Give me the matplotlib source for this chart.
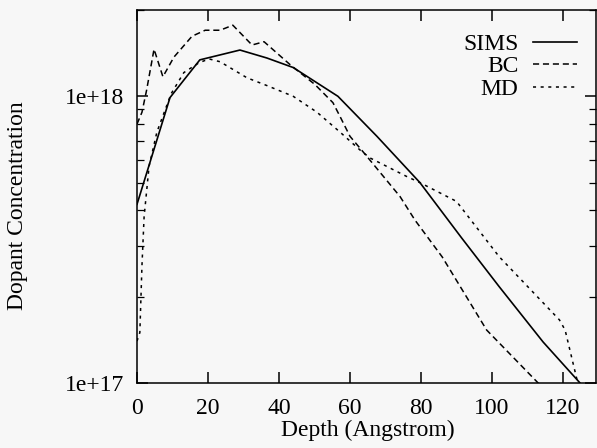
import matplotlib
matplotlib.use("Agg")
import math
import matplotlib.pyplot as plt
from matplotlib.ticker import FixedLocator, LogLocator, NullFormatter, FuncFormatter

# values (depth in Angstrom, concentration in cm^-3)
sims_depth = [0, 9.3, 17.7, 29, 36.6, 44, 56.6, 67.6, 79.7, 91.5, 102, 114.4, 124.8]
sims_conc = [4.2e17, 9.9e17, 1.34e18, 1.45e18, 1.36e18, 1.26e18, 1.0e18,
             7.25e17, 5.0e17, 3.2e17, 2.17e17, 1.39e17, 1.0e17]

bc_depth = [0, 1.4, 2.7, 4.8, 7.3, 10.4, 15.5, 19.2, 23.4, 27, 32.4, 35.8,
            43.1, 50.1, 55.2, 57.2, 60, 63.7, 74.1, 78.3, 86, 98.5, 113, 116]
bc_conc = [8.0e17, 8.8e17, 1.05e18, 1.46e18, 1.17e18, 1.37e18, 1.62e18, 1.70e18,
           1.70e18, 1.77e18, 1.51e18, 1.55e18, 1.29e18, 1.10e18, 9.5e17, 8.5e17,
           7.25e17, 6.4e17, 4.47e17, 3.7e17, 2.75e17, 1.53e17, 1.0e17, 9.2e16]

md_depth = [0, 0.8, 1.4, 2.0, 3.4, 5.6, 9.6, 13.2, 17.5, 20.3, 23.4, 31, 36.6,
            44, 50.7, 57.2, 62.8, 65.6, 76, 79.7, 90, 102, 119, 120.6, 124, 124.8]
md_conc = [1.4e17, 1.5e17, 2.57e17, 3.8e17, 5.7e17, 7.5e17, 1.02e18, 1.21e18,
           1.31e18, 1.35e18, 1.32e18, 1.16e18, 1.09e18, 1.0e18, 8.8e17, 7.5e17,
           6.5e17, 6.1e17, 5.25e17, 5.0e17, 4.3e17, 2.76e17, 1.66e17, 1.53e17,
           1.02e17, 9.5e16]

x_ticks = [0, 20, 40, 60, 80, 100, 120]

plt.rcParams['font.family'] = ['Liberation Serif', 'DejaVu Serif']
fs = 17

fig = plt.figure(figsize=(5.97, 4.48), dpi=100, facecolor='#f7f7f7')
ax = fig.add_axes([137/597, 65/448, 459/597, 373/448])
ax.set_facecolor('#f7f7f7')

ax.plot(sims_depth, sims_conc, color='black', lw=1.2, ls='-', label='SIMS')
ax.plot(bc_depth, bc_conc, color='black', lw=1.1, ls=(0, (4, 2.5)), label='BC')
ax.plot(md_depth, md_conc, color='black', lw=1.1, ls=(0, (2, 3)), label='MD')

ax.set_yscale('log')
ax.set_xlim(0, 129.3)
ax.set_ylim(1e17, 2.0e18)

ax.xaxis.set_major_locator(FixedLocator(x_ticks))
ax.yaxis.set_major_locator(FixedLocator([1e17, 1e18]))
ax.yaxis.set_minor_locator(LogLocator(base=10, subs=range(2, 10)))
ax.yaxis.set_minor_formatter(NullFormatter())
ax.yaxis.set_major_formatter(FuncFormatter(lambda v, p: '1e+%d' % round(math.log10(v))))

ax.tick_params(which='both', direction='in', top=True, right=True, labelsize=fs, color='black')
ax.tick_params(which='major', length=8, width=1.1)
ax.tick_params(axis='x', which='major', pad=11)
ax.tick_params(axis='y', which='major', pad=9)
ax.tick_params(which='minor', length=5, width=0.9)
for s in ax.spines.values():
    s.set_linewidth(1.1)

ax.set_xlabel('Depth (Angstrom)', fontsize=fs)
ax.set_ylabel('Dopant Concentration', fontsize=fs)
ax.xaxis.set_label_coords(0.502, -0.1)
ax.yaxis.set_label_coords(-0.2375, 0.475)

leg = ax.legend(loc='upper right', markerfirst=False, frameon=False, fontsize=fs,
                handlelength=1.9, handletextpad=0.6, labelspacing=0.05,
                borderaxespad=0.0, bbox_to_anchor=(0.98, 0.963))
for t in leg.get_texts():
    t.set_ha('right')

fig.savefig('out.png', dpi=100, facecolor=fig.get_facecolor())
